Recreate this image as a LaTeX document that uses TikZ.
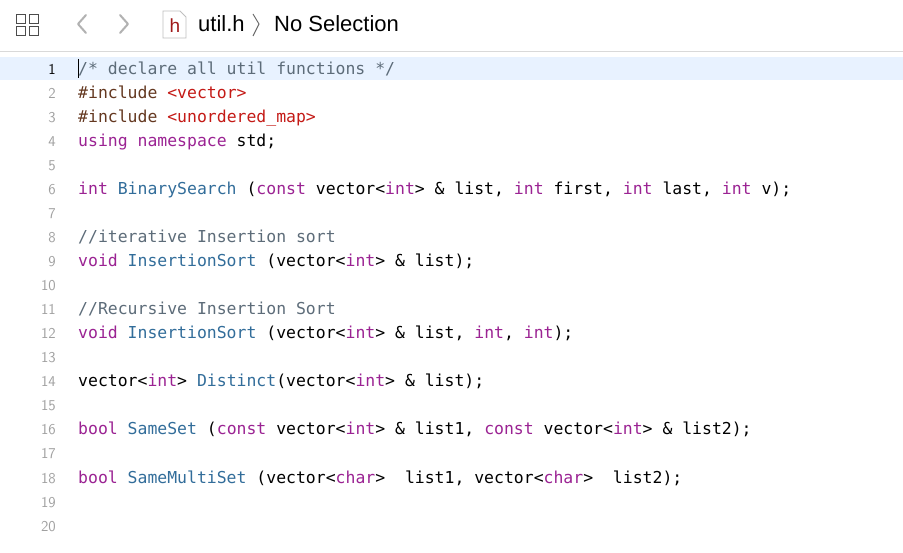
\documentclass[tikz,border=0pt]{standalone}
\usepackage{fontspec}
\setmainfont{Liberation Sans}
\setmonofont{DejaVu Sans Mono}[Scale=1]
\usepackage{xcolor}
\definecolor{kw}{HTML}{9B2393}
\definecolor{fn}{HTML}{326D9A}
\definecolor{str}{HTML}{C41A16}
\definecolor{pre}{HTML}{643820}
\definecolor{cmt}{HTML}{5D6C79}
\definecolor{ln}{HTML}{A0A0A0}
\definecolor{hl}{HTML}{E8F2FF}
\newcommand{\K}[1]{\textcolor{kw}{#1}}
\newcommand{\F}[1]{\textcolor{fn}{#1}}
\begin{document}
\begin{tikzpicture}[x=1pt,y=-1pt,
  code/.style={anchor=base west,inner sep=0pt,font=\fontsize{16.45}{18}\ttfamily,yshift=-2pt},
  num/.style={anchor=base east,inner sep=0pt,font=\fontsize{15}{16}\sffamily,text=ln,yshift=-2pt},
  icon/.style={draw=black!70,line width=1.3pt}]
\useasboundingbox (0,0) rectangle (903,553);
\fill[white] (0,0) rectangle (903,553);
\draw[black!15,line width=1pt] (0,52) -- (903,52);
\fill[hl] (0,57) rectangle (903,80);
% toolbar icons
\node[icon,minimum size=9pt,inner sep=0pt] (g1) at (21,19) {};
\node[icon,minimum size=9pt,inner sep=0pt] (g2) at (34,19) {};
\node[icon,minimum size=9pt,inner sep=0pt] (g3) at (21,31) {};
\node[icon,minimum size=9pt,inner sep=0pt] (g4) at (34,31) {};
\draw[black!30,line width=2pt,line cap=round,line join=round] (86,15) -- (78,24) -- (86,33);
\draw[black!30,line width=2pt,line cap=round,line join=round] (120,15) -- (128,24) -- (120,33);
\draw[black!25,fill=white,line width=0.8pt] (163,11) -- (180,11) -- (186,17) -- (186,38) -- (163,38) -- cycle;
\node[inner sep=0pt,font=\fontsize{19}{20}\rmfamily\selectfont] (h) at (175,26) {\textcolor[HTML]{A01818}{h}};
\node[anchor=base west,inner sep=0pt,font=\fontsize{22}{24}\selectfont] (t1) at (198,32) {util.h};
\draw[black!60,line width=0.9pt] (253,14) -- (259,24) -- (253,36);
\node[anchor=base west,inner sep=0pt,font=\fontsize{22}{24}\selectfont] (t2) at (274,32) {No Selection};
% line numbers
\foreach \i in {1,...,20} {
  \node[num] (n\i) at (56,{68+24*(\i-1)+5}) {\ifnum\i=1 \textcolor{black}{\i}\else\i\fi};
}
\draw[black,line width=1.2pt] (78.5,59) -- (78.5,78);
\node[code] (c1) at (78,73) {\textcolor{cmt}{/* declare all util functions */}};
\node[code] (c2) at (78,97) {\textcolor{pre}{\#include }\textcolor{str}{<vector>}};
\node[code] (c3) at (78,121) {\textcolor{pre}{\#include }\textcolor{str}{<unordered\_map>}};
\node[code] (c4) at (78,145) {\K{using namespace} std;};
\node[code] (c6) at (78,193) {\K{int} \F{BinarySearch} (\K{const} vector<\K{int}> \& list, \K{int} first, \K{int} last, \K{int} v);};
\node[code] (c8) at (78,241) {\textcolor{cmt}{//iterative Insertion sort}};
\node[code] (c9) at (78,265) {\K{void} \F{InsertionSort} (vector<\K{int}> \& list);};
\node[code] (c11) at (78,313) {\textcolor{cmt}{//Recursive Insertion Sort}};
\node[code] (c12) at (78,337) {\K{void} \F{InsertionSort} (vector<\K{int}> \& list, \K{int}, \K{int});};
\node[code] (c14) at (78,385) {vector<\K{int}> \F{Distinct}(vector<\K{int}> \& list);};
\node[code] (c16) at (78,433) {\K{bool} \F{SameSet} (\K{const} vector<\K{int}> \& list1, \K{const} vector<\K{int}> \& list2);};
\node[code] (c18) at (78,481) {\K{bool} \F{SameMultiSet} (vector<\K{char}>\ \ list1, vector<\K{char}>\ \ list2);};
\end{tikzpicture}
\end{document}
